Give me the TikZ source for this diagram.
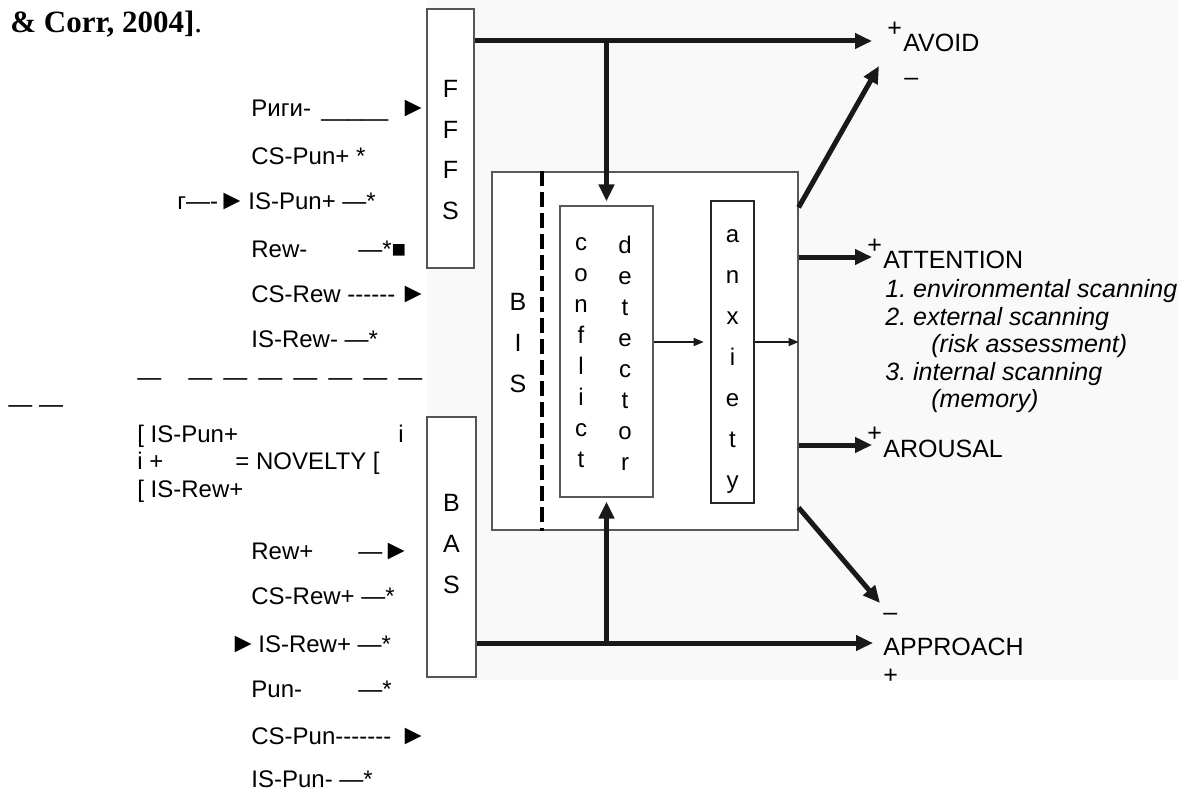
\documentclass[tikz,border=0pt]{standalone}
\usepackage{fontspec}
\setmainfont{Liberation Sans}[Ligatures=TeXOff]
\newfontfamily\citefont{Liberation Serif}
\usetikzlibrary{arrows.meta,positioning}
\definecolor{rsTint}{HTML}{F9F9F9}
\definecolor{rsLine}{HTML}{555555}
\frenchspacing

\begin{document}
\begin{tikzpicture}[x=0.5pt, y=-0.5pt,
  txt/.style={inner sep=0pt, anchor=base west, font=\fontsize{12}{14}\selectfont},
  tri/.style={inner sep=0pt, anchor=base west, font=\fontsize{14}{14}\selectfont},
  lbl/.style={inner sep=0pt, anchor=base west, font=\fontsize{12.5}{14}\selectfont},
  itl/.style={inner sep=0pt, anchor=base west, font=\fontsize{12.5}{14}\selectfont\itshape},
  sysbox/.style={draw=rsLine, line width=0.8pt, fill=white, inner sep=0pt},
  letters/.style={inner sep=0pt, align=center},
  fatarr/.style={-{Triangle[length=8.5pt,width=7.5pt]}, line width=2.5pt, color=black!90},
  thinarr/.style={-{Triangle[length=5pt,width=4pt]}, line width=0.8pt, color=black!90}
]
  \useasboundingbox (0,0) rectangle (1181,792);
  \fill[rsTint] (427,0) rectangle (1178,680);

  % systems
  \node[sysbox, minimum width=23.5pt, minimum height=129.5pt] (fffs) at (450.5,138.5) {};
  \node[sysbox, minimum width=24.5pt, minimum height=130pt] (bas) at (451.5,547) {};
  \node[sysbox, draw=gray!70!black, line width=0.6pt, minimum width=153pt, minimum height=179pt] (bis) at (645,351) {};
  \node[sysbox, draw=gray!70!black, line width=0.6pt, minimum width=46.5pt, minimum height=145.5pt] (conf) at (606.5,351.5) {};
  \node[sysbox, draw=black!85, line width=1.3pt, minimum width=21.5pt, minimum height=151pt] (anx) at (732.5,352) {};
  \draw[line width=1.6pt, dash pattern=on 7.5pt off 3pt] (bis.north -| 542,0) -- (bis.south -| 542,0);

  \node[letters, font=\fontsize{12.5}{20.3}\selectfont] (fffslbl) at (450.5,150) {F\\F\\F\\S};
  \node[letters, font=\fontsize{12.5}{20.5}\selectfont] (baslbl) at (451.5,544) {B\\A\\S};
  \node[letters, font=\fontsize{12.5}{20.5}\selectfont] (bislbl) at (518,343) {B\\I\\S};
  \node[letters, font=\fontsize{12}{15.5}\selectfont] (conflbl) at (581,353) {c\\o\\n\\f\\l\\i\\c\\t};
  \node[letters, font=\fontsize{12}{15.5}\selectfont] (detlbl) at (625,353) {d\\e\\t\\e\\c\\t\\o\\r};
  \node[letters, font=\fontsize{12}{20.5}\selectfont] (anxlbl) at (732.5,362) {a\\n\\x\\i\\e\\t\\y};

  % outputs
  \coordinate (avoidin) at (872,41);
  \coordinate (avoidlo) at (879,66);
  \coordinate (attin) at (872,257);
  \coordinate (arousin) at (872,445);
  \coordinate (approlo) at (880,603);
  \coordinate (apprin) at (873,643);

  \node[lbl] (avoid) at (903,52) {AVOID};
  \node[lbl] (avoidp) at (887,37) {+};
  \node[lbl] (avoidm) at (904,86) {–};
  \node[lbl] (attn) at (883,268) {ATTENTION};
  \node[lbl] (attnp) at (867,253) {+};
  \node[itl] (scan1) at (885,297) {1. environmental scanning};
  \node[itl] (scan2) at (885,325) {2. external scanning};
  \node[itl] (scan2b) at (931,352) {(risk assessment)};
  \node[itl] (scan3) at (885,380) {3. internal scanning};
  \node[itl] (scan3b) at (931,407) {(memory)};
  \node[lbl] (arous) at (883,457) {AROUSAL};
  \node[lbl] (arousp) at (867,441) {+};
  \node[lbl] (appr) at (883,655) {APPROACH};
  \node[lbl] (apprm) at (883,620) {–};
  \node[lbl] (apprp) at (883,683) {+};

  \draw[fatarr] (fffs.east |- avoidin) -- (avoidin);
  \draw[fatarr, shorten >=2pt] (conf.north |- avoidin) -- (conf.north);
  \draw[fatarr] ([yshift=-18pt]bis.north east) -- (avoidlo);
  \draw[fatarr] (bis.east |- attin) -- (attin);
  \draw[fatarr] (bis.east |- arousin) -- (arousin);
  \draw[fatarr] ([yshift=11.5pt]bis.south east) -- (approlo);
  \draw[fatarr] (bas.east |- apprin) -- (apprin);
  \draw[fatarr, shorten >=2pt] (conf.south |- apprin) -- (conf.south);
  \draw[thinarr, shorten >=3pt] ([yshift=4.75pt]conf.east) -- ([yshift=4.75pt]conf.east -| anx.west);
  \draw[thinarr] ([yshift=5pt]anx.east) -- ([yshift=5pt]anx.east -| bis.east);

  % inputs (as printed)
  \node[inner sep=0pt, anchor=base west, font=\fontsize{15.5}{18}\selectfont\citefont] (cite) at (10,33) {\textbf{\& Corr, 2004]}.};
  \node[txt] (pun1) at (251,117) {Риги-};
  \node[txt] (pun1l) at (321,117) {\_\_\_\_\_};
  \node[tri] (pun1a) at (399,117) {►};
  \node[txt] (cspun) at (251,164) {CS-Pun+ *};
  \node[txt] (ispuna) at (177,209) {г—-{\fontsize{14}{14}\selectfont ►}};
  \node[txt] (ispun) at (248,209) {IS-Pun+ —*};
  \node[txt] (rewm) at (251,257) {Rew-};
  \node[txt] (rewma) at (358,257) {—*■};
  \node[txt] (csrew) at (251,302) {CS-Rew ------};
  \node[tri] (csrewa) at (399,302) {►};
  \node[txt] (isrewm) at (251,347) {IS-Rew- —*};
  \node[txt] (gap1) at (137,385) {—};
  \node[txt] (gap2) at (188,385) {—\hspace{5.5pt}—\hspace{5.5pt}—\hspace{5.5pt}—\hspace{5.5pt}—\hspace{5.5pt}—\hspace{5.5pt}—};
  \node[txt] (gap3) at (8,412) {— —};
  \node[txt] (nov1) at (137,442) {[ IS-Pun+};
  \node[txt] (nov1i) at (398,442) {i};
  \node[txt] (nov2) at (137,469) {i +};
  \node[txt] (nov) at (235,469) {= NOVELTY [};
  \node[txt] (nov3) at (137,497) {[ IS-Rew+};
  \node[txt] (rewp) at (251,559) {Rew+};
  \node[txt] (rewpa) at (358,559) {—{\fontsize{14}{14}\selectfont ►}};
  \node[txt] (csrewp) at (251,604) {CS-Rew+ —*};
  \node[tri] (isrewpa) at (229,652) {►};
  \node[txt] (isrewp) at (258,652) {IS-Rew+ —*};
  \node[txt] (punm) at (251,697) {Pun-};
  \node[txt] (punma) at (358,697) {—*};
  \node[txt] (cspunm) at (251,744) {CS-Pun-------};
  \node[tri] (cspunma) at (399,744) {►};
  \node[txt] (ispunm) at (251,787) {IS-Pun- —*};
\end{tikzpicture}
\end{document}
